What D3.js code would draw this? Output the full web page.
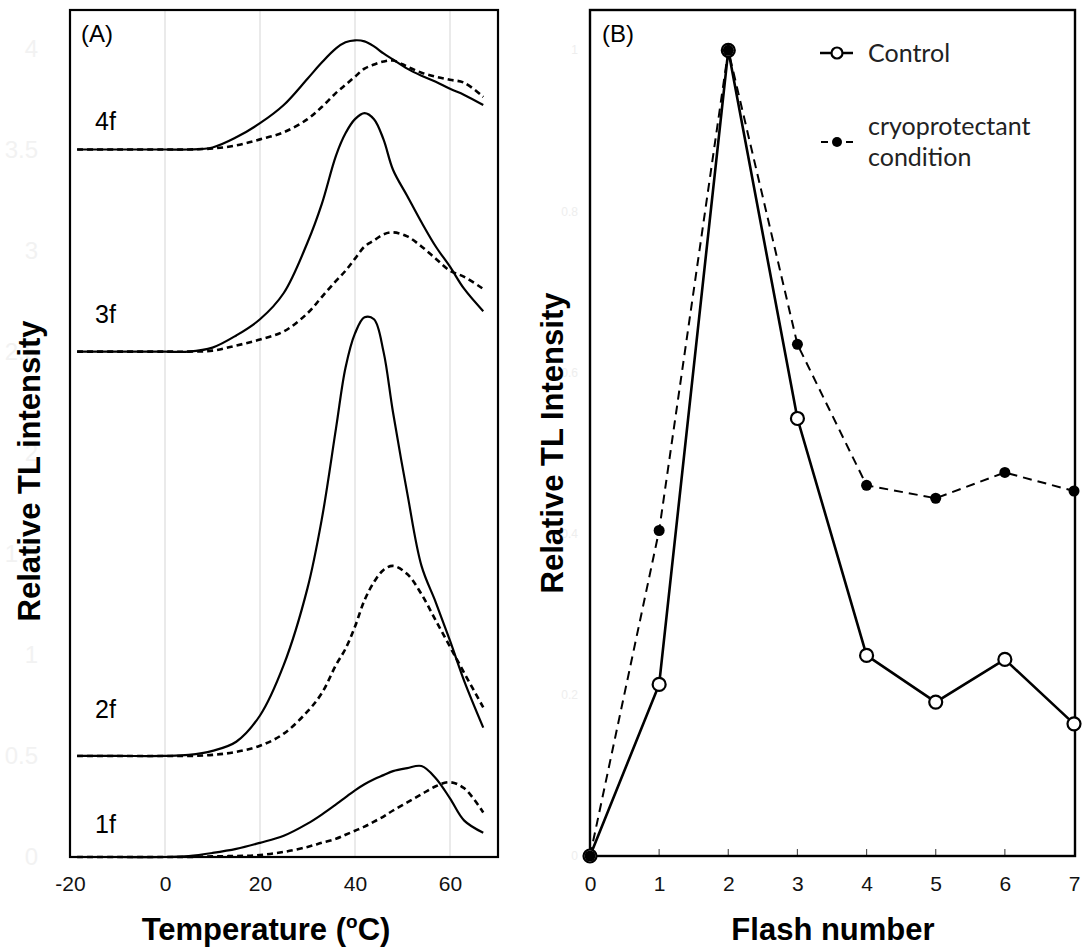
<!DOCTYPE html>
<html><head><meta charset="utf-8">
<script src="https://cdn.jsdelivr.net/npm/d3@7"></script>
<style>body{margin:0;background:#fff}svg{display:block}</style>
</head><body>
<svg id="c" width="1082" height="949"></svg>
<script>
// ---------- Panel A data ----------
const temps = [-18.5,-10,0,5,10,15,20,25,30,33,36,38,40,42,44,46,48,51,54,57,60,63,67];
const curveLabels = ["1f","2f","3f","4f"];
const offsets = [0, 0.5, 2.5, 3.5];
const control1f = [0,0,0,0.005,0.02,0.04,0.07,0.105,0.165,0.21,0.26,0.295,0.33,0.36,0.385,0.405,0.425,0.44,0.45,0.39,0.29,0.18,0.12];
const cryo1f    = [0,0,0,0,0.003,0.005,0.01,0.025,0.05,0.07,0.09,0.11,0.13,0.15,0.175,0.20,0.23,0.27,0.31,0.35,0.37,0.34,0.22];
const control2f = [0,0,0,0.005,0.025,0.07,0.20,0.45,0.83,1.17,1.62,1.92,2.09,2.17,2.16,2.00,1.70,1.30,0.94,0.76,0.57,0.37,0.14];
const cryo2f    = [0,0,0,0,0.005,0.02,0.05,0.11,0.22,0.31,0.45,0.53,0.64,0.77,0.86,0.92,0.94,0.90,0.80,0.67,0.54,0.41,0.24];
const control3f = [0,0,0,0,0.02,0.08,0.16,0.29,0.54,0.73,0.97,1.08,1.15,1.18,1.15,1.05,0.90,0.77,0.64,0.52,0.42,0.31,0.20];
const cryo3f    = [0,0,0,0,0.005,0.03,0.06,0.10,0.19,0.27,0.35,0.40,0.46,0.52,0.55,0.58,0.59,0.57,0.52,0.46,0.40,0.37,0.31];
const control4f = [0,0,0,0,0.01,0.06,0.13,0.22,0.35,0.43,0.50,0.53,0.54,0.535,0.51,0.475,0.445,0.40,0.365,0.335,0.30,0.27,0.22];
const cryo4f    = [0,0,0,0,0.005,0.02,0.05,0.085,0.15,0.21,0.28,0.32,0.36,0.40,0.42,0.435,0.44,0.41,0.38,0.36,0.345,0.33,0.26];
const tempTicks = [-20,0,20,40,60];
const yTicksA = [0,0.5,1,1.5,2,2.5,3,3.5,4];

// ---------- Panel B data ----------
const flashes = [0,1,2,3,4,5,6,7];
const controlB = [0,0.213,1.0,0.543,0.249,0.191,0.244,0.164];
const cryoB    = [0,0.404,1.0,0.635,0.460,0.444,0.476,0.453];
const yTicksB = [0,0.2,0.4,0.6,0.8,1];

const FONT = "'Liberation Sans', Arial, Helvetica, sans-serif";
const svg = d3.select("#c");

// ===== Panel A =====
const xA = d3.scaleLinear().domain([-20,70]).range([70,497.5]);
const yA = d3.scaleLinear().domain([0,4.19]).range([857,10]);

svg.append("g").selectAll("line").data(tempTicks.filter(t=>t>-20)).join("line")
  .attr("x1",d=>xA(d)).attr("x2",d=>xA(d)).attr("y1",10).attr("y2",857)
  .attr("stroke","#dcdcdc").attr("stroke-width",1.2);

svg.append("g").selectAll("text").data(yTicksA).join("text")
  .attr("x",38).attr("y",d=>yA(d)).attr("dy","0.35em").attr("text-anchor","end")
  .style("font-family",FONT).attr("font-size",24)
  .attr("fill","#f2f2f2").text(d=>d);

const axA = svg.append("g").attr("transform","translate(0,857)")
  .call(d3.axisBottom(xA).tickValues(tempTicks).tickSize(0).tickPadding(19).tickFormat(d=>d));
axA.select(".domain").remove();
axA.selectAll("text").style("font-family",FONT).attr("font-size",21).attr("fill","#111");

const lineA = d3.line().x(d=>xA(d[0])).y(d=>yA(d[1])).curve(d3.curveCatmullRom.alpha(0.5));
const ctrlA = [control1f,control2f,control3f,control4f];
const cryoA = [cryo1f,cryo2f,cryo3f,cryo4f];
cryoA.forEach((arr,i)=>{
  svg.append("path").datum(temps.map((t,j)=>[t,arr[j]+offsets[i]]))
    .attr("d",lineA).attr("fill","none").attr("stroke","#000").attr("stroke-width",2.6)
    .attr("stroke-dasharray","6,4");
});
ctrlA.forEach((arr,i)=>{
  svg.append("path").datum(temps.map((t,j)=>[t,arr[j]+offsets[i]]))
    .attr("d",lineA).attr("fill","none").attr("stroke","#000").attr("stroke-width",2.2);
});

const labelBase = [833,718,323,130];
svg.append("g").selectAll("text").data(curveLabels).join("text")
  .attr("x",95).attr("y",(d,i)=>labelBase[i])
  .style("font-family",FONT).attr("font-size",25).attr("fill","#000")
  .text(d=>d);

svg.append("rect").attr("x",70).attr("y",10).attr("width",428).attr("height",847)
  .attr("fill","none").attr("stroke","#000").attr("stroke-width",2.2);

svg.append("text").attr("x",81).attr("y",42).style("font-family",FONT)
  .attr("font-size",24).text("(A)");

const tA = svg.append("text").attr("x",266).attr("y",940).attr("text-anchor","middle")
  .style("font-family",FONT).attr("font-weight","bold").attr("font-size",31);
tA.append("tspan").text("Temperature (");
tA.append("tspan").attr("font-size",19).attr("dy",-12).text("o");
tA.append("tspan").attr("dy",12).text("C)");

svg.append("text").attr("transform","translate(40,471) rotate(-90)").attr("text-anchor","middle")
  .style("font-family",FONT).attr("font-weight","bold").attr("font-size",31)
  .text("Relative TL intensity");

// ===== Panel B =====
const xB = d3.scaleLinear().domain([0,7]).range([590,1074]);
const yB = d3.scaleLinear().domain([0,1.05]).range([856,10]);

svg.append("g").selectAll("text").data(yTicksB).join("text")
  .attr("x",578).attr("y",d=>yB(d)).attr("dy","0.35em").attr("text-anchor","end")
  .style("font-family",FONT).attr("font-size",12)
  .attr("fill","#eeeeee").text(d=>d);

const axB = svg.append("g").attr("transform","translate(0,856)")
  .call(d3.axisBottom(xB).tickValues(flashes).tickSize(0).tickPadding(20).tickFormat(d=>d));
axB.select(".domain").remove();
axB.selectAll("text").style("font-family",FONT).attr("font-size",21).attr("fill","#111");
svg.append("g").selectAll("line").data(flashes.slice(1,7)).join("line")
  .attr("x1",d=>xB(d)).attr("x2",d=>xB(d)).attr("y1",856).attr("y2",849)
  .attr("stroke","#555").attr("stroke-width",1.2);

svg.append("rect").attr("x",590).attr("y",10).attr("width",485).attr("height",846)
  .attr("fill","none").attr("stroke","#000").attr("stroke-width",2.4);

const lineB = d3.line().x((d,i)=>xB(flashes[i])).y(d=>yB(d));
svg.append("path").datum(cryoB).attr("d",lineB).attr("fill","none").attr("stroke","#000")
  .attr("stroke-width",2).attr("stroke-dasharray","9,6");
svg.append("path").datum(controlB).attr("d",lineB).attr("fill","none").attr("stroke","#000")
  .attr("stroke-width",2.6);
svg.append("g").selectAll("circle").data(controlB).join("circle")
  .attr("cx",(d,i)=>xB(flashes[i])).attr("cy",d=>yB(d)).attr("r",6.5)
  .attr("fill","#fff").attr("stroke","#000").attr("stroke-width",2.2);
svg.append("g").selectAll("circle").data(cryoB).join("circle")
  .attr("cx",(d,i)=>xB(flashes[i])).attr("cy",d=>yB(d)).attr("r",5.5)
  .attr("fill","#000");

svg.append("text").attr("x",602).attr("y",42).style("font-family",FONT)
  .attr("font-size",24).text("(B)");

const lg = svg.append("g").style("font-family","Lato, 'Open Sans', sans-serif").attr("font-size",25).attr("fill","#222");
lg.append("line").attr("x1",820).attr("x2",853).attr("y1",53).attr("y2",53).attr("stroke","#000").attr("stroke-width",2.4);
lg.append("circle").attr("cx",837).attr("cy",53).attr("r",5.5).attr("fill","#fff").attr("stroke","#000").attr("stroke-width",2.2);
lg.append("text").attr("x",868).attr("y",53).attr("dy","0.35em").text("Control");
lg.append("line").attr("x1",821).attr("x2",853).attr("y1",142).attr("y2",142).attr("stroke","#000").attr("stroke-width",2.2).attr("stroke-dasharray","7,18");
lg.append("circle").attr("cx",837).attr("cy",142).attr("r",5).attr("fill","#000");
lg.append("text").attr("x",868).attr("y",126).attr("dy","0.35em").text("cryoprotectant");
lg.append("text").attr("x",868).attr("y",157).attr("dy","0.35em").text("condition");

svg.append("text").attr("x",833).attr("y",940).attr("text-anchor","middle")
  .style("font-family",FONT).attr("font-weight","bold").attr("font-size",31)
  .text("Flash number");
svg.append("text").attr("transform","translate(563,443) rotate(-90)").attr("text-anchor","middle")
  .style("font-family",FONT).attr("font-weight","bold").attr("font-size",31)
  .text("Relative TL Intensity");
</script>
</body></html>
